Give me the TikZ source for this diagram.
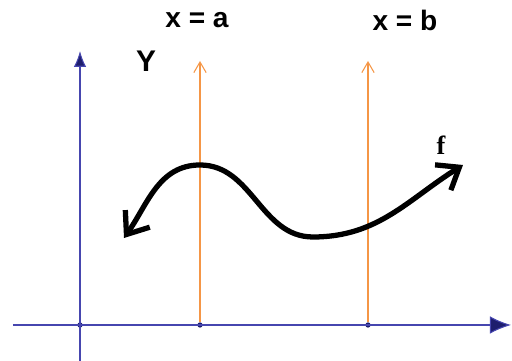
\documentclass[tikz,border=0pt]{standalone}
\usepackage{fontspec}
\setmainfont{Liberation Sans}
\newfontfamily\serifface{Liberation Serif}
\usetikzlibrary{arrows.meta}
\definecolor{axisblue}{RGB}{70,70,175}
\definecolor{axisnavy}{RGB}{30,30,110}
\definecolor{linesorange}{RGB}{245,150,70}
\begin{document}
\begin{tikzpicture}[x=0.02cm,y=0.02cm]
	\tikzset{axis/.style={draw=axisblue, line width=0.6pt},
		vline/.style={draw=linesorange, line width=0.6pt, -{Straight Barb[length=6pt,width=7pt]}},
		curve/.style={draw=black, line width=3pt, {Straight Barb[length=11pt,width=17pt]}-{Straight Barb[length=11pt,width=17pt]}},
		dot/.style={circle, fill=axisnavy, inner sep=0pt, minimum size=3pt},
		lbl/.style={font=\bfseries\fontsize{16}{18}\selectfont}}
	\useasboundingbox (0,0) rectangle (512,361);
	% axes
	\coordinate (xl) at (13,36);
	\coordinate (xr) at (511,36);
	\coordinate (yb) at (80,0);
	\coordinate (yt) at (80,310);
	\node[dot] (o) at (80,36) {};
	\node[dot] (a) at (200,36) {};
	\node[dot] (b) at (368,36) {};
	\draw[axis,-{Latex[length=12pt,width=10pt,fill=axisnavy]}] (xl) -- (xr);
	\draw[axis,-{Latex[length=9pt,width=7pt,fill=axisnavy]}] (yb) -- (yt);
	\node[font=\bfseries\fontsize{17}{19}\selectfont] (ylab) at (146,300) {Y};
	% x = a, x = b
	\coordinate (at) at (200,300);
	\coordinate (bt) at (368,300);
	\draw[vline] (a) -- (at);
	\draw[vline] (b) -- (bt);
	\node[lbl] (la) at (197,341) {x = a};
	\node[lbl] (lb) at (405,341) {x = b};
	% f
	\coordinate (p0) at (124,123);
	\coordinate (p1) at (200,196);
	\coordinate (p2) at (313,124);
	\coordinate (p3) at (463,196);
	\draw[curve] (p0) to[out=55,in=180] (p1) to[out=0,in=180] (p2) to[out=0,in=212] (p3);
	\node[font=\serifface\bfseries\fontsize{15}{17}\selectfont] (flab) at (441,216) {f};
\end{tikzpicture}
\end{document}
